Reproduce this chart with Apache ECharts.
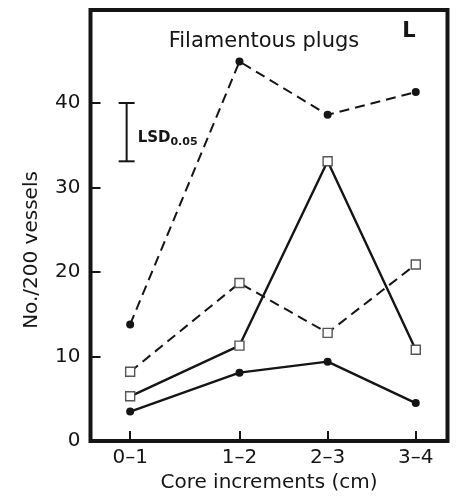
<!DOCTYPE html>
<html>
<head>
<meta charset="utf-8">
<script src="https://cdn.jsdelivr.net/npm/echarts@6/dist/echarts.min.js"></script>
<style>
  html, body { margin: 0; padding: 0; background: #fff; }
  #chart { width: 457px; height: 498px; }
</style>
</head>
<body>
<div id="chart"></div>
<script>
// core increments, placed where the original drawing puts them
const CATEGORIES = ["0–1", "1–2", "2–3", "3–4"];
const X_POS = [0, 1.24, 2.24, 3.24];
const Y_TICKS = [0, 10, 20, 30, 40];

const dashedCircles = [13.8, 44.9, 38.6, 41.3];
const dashedSquares = [8.2, 18.7, 12.8, 20.9];
const solidSquares = [5.3, 11.3, 33.1, 10.8];
const solidCircles = [3.5, 8.1, 9.4, 4.5];

// LSD(0.05) bar: x position and value range
const LSD_X = -0.04;
const LSD_RANGE = [33.1, 40];

const FONT = "DejaVu Sans";
const INK = "#151515";

const chart = echarts.init(document.getElementById("chart"));

function pairs(vals) {
  return vals.map((v, i) => [X_POS[i], v]);
}

function lineSeries(vals, dashed, square) {
  return {
    type: "line",
    data: pairs(vals),
    symbol: square ? "rect" : "circle",
    symbolSize: square ? 9 : 8,
    showSymbol: true,
    z: square ? 3 : 4,
    itemStyle: square
      ? { color: "#fff", borderColor: "#555", borderWidth: 1.4 }
      : { color: INK, borderWidth: 0 },
    lineStyle: {
      color: INK,
      width: dashed ? 2 : 2.4,
      type: dashed ? [10, 6] : "solid",
    },
    animation: false,
  };
}

const option = {
  animation: false,
  grid: {
    left: 90.5, right: 9.5, top: 10, bottom: 50,
    show: true, borderColor: INK, borderWidth: 4,
  },
  xAxis: {
    type: "value",
    min: -0.45,
    max: 3.6,
    axisLine: { show: false, onZero: false },
    splitLine: { show: false },
    axisTick: { inside: true, length: 10, customValues: X_POS, lineStyle: { color: INK, width: 2 } },
    axisLabel: {
      customValues: X_POS,
      margin: 7,
      color: INK,
      fontFamily: FONT,
      fontSize: 20,
      formatter: (v) => CATEGORIES[X_POS.indexOf(v)] || "",
    },
    name: "Core increments (cm)",
    nameLocation: "middle",
    nameGap: 30,
    nameTextStyle: { color: INK, fontFamily: FONT, fontSize: 20 },
  },
  yAxis: {
    type: "value",
    min: 0,
    max: 51,
    axisLine: { show: false, onZero: false },
    splitLine: { show: false },
    axisTick: { inside: true, length: 10, customValues: Y_TICKS, lineStyle: { color: INK, width: 2 } },
    axisLabel: {
      customValues: Y_TICKS,
      margin: 10,
      color: INK,
      fontFamily: FONT,
      fontSize: 20,
    },
  },
  graphic: [
    {
      type: "text",
      x: 32, y: 250,
      rotation: Math.PI / 2,
      style: {
        text: "No./200 vessels",
        fill: INK,
        font: "20px '" + FONT + "'",
        align: "center",
        verticalAlign: "middle",
      },
    },
    {
      type: "text",
      x: 264, y: 42,
      style: {
        text: "Filamentous plugs",
        fill: INK,
        font: "21px '" + FONT + "'",
        align: "center",
        verticalAlign: "middle",
      },
    },
    {
      type: "text",
      x: 409, y: 32,
      style: {
        text: "L",
        fill: INK,
        font: "bold 21px '" + FONT + "'",
        align: "center",
        verticalAlign: "middle",
      },
    },
  ],
  series: [
    lineSeries(dashedCircles, true, false),
    lineSeries(dashedSquares, true, true),
    lineSeries(solidSquares, false, true),
    lineSeries(solidCircles, false, false),
    {
      type: "custom",
      data: [[LSD_X, LSD_RANGE[0], LSD_RANGE[1]]],
      renderItem: (params, api) => {
        const lo = api.coord([api.value(0), api.value(1)]);
        const hi = api.coord([api.value(0), api.value(2)]);
        const w = 8;
        const st = { stroke: INK, lineWidth: 2 };
        return {
          type: "group",
          children: [
            { type: "line", shape: { x1: hi[0], y1: hi[1], x2: lo[0], y2: lo[1] }, style: st },
            { type: "line", shape: { x1: hi[0] - w, y1: hi[1], x2: hi[0] + w, y2: hi[1] }, style: st },
            { type: "line", shape: { x1: lo[0] - w, y1: lo[1], x2: lo[0] + w, y2: lo[1] }, style: st },
            {
              type: "text",
              x: hi[0] + 11,
              y: (hi[1] + lo[1]) / 2 + 6,
              style: {
                text: "{a|LSD}{b|0.05}",
                verticalAlign: "middle",
                rich: {
                  a: { fontFamily: FONT, fontWeight: "bold", fontSize: 15, fill: INK, color: INK },
                  b: { fontFamily: FONT, fontWeight: "bold", fontSize: 11, fill: INK, color: INK, padding: [8, 0, 0, 0] },
                },
              },
            },
          ],
        };
      },
    },
  ],
};

chart.setOption(option);
window.addEventListener("resize", () => chart.resize());
</script>
</body>
</html>
